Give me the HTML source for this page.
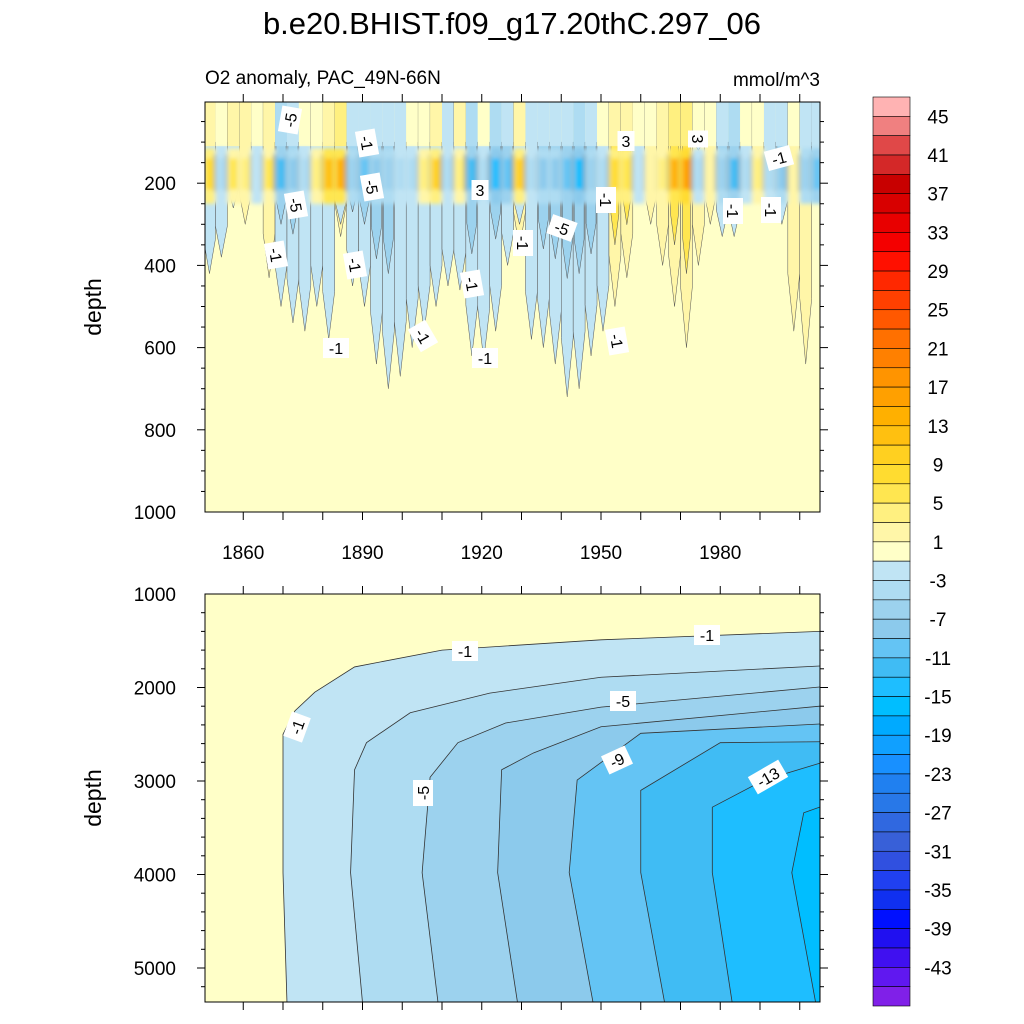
<!DOCTYPE html>
<html><head><meta charset="utf-8">
<style>
body{margin:0;background:#fff;}
svg{display:block;font-family:"Liberation Sans",sans-serif;}
</style></head>
<body>
<svg id="chart" width="1024" height="1024" viewBox="0 0 1024 1024">
<text x="512" y="34" font-size="31" text-anchor="middle">b.e20.BHIST.f09_g17.20thC.297_06</text>
<text x="205" y="84" font-size="19">O2 anomaly, PAC_49N-66N</text>
<text x="820" y="86" font-size="19" text-anchor="end">mmol/m^3</text>
<text transform="translate(101,307) rotate(-90)" font-size="23" text-anchor="middle">depth</text>
<text transform="translate(101,798) rotate(-90)" font-size="23" text-anchor="middle">depth</text>
<defs><clipPath id="ctop"><rect x="205" y="102" width="615" height="410"/></clipPath>
<clipPath id="cbot"><rect x="205" y="594" width="615" height="408"/></clipPath>
<filter id="blur" x="-5%" y="-20%" width="110%" height="140%"><feGaussianBlur stdDeviation="2.5 2"/></filter></defs>
<g id="topPanel" clip-path="url(#ctop)">
<g id="topBase"></g><g id="topCore" filter="url(#blur)"></g></g>
<g id="botPanel" clip-path="url(#cbot)"></g>
<g id="axes"></g>
<g id="cbar"></g>
</svg>
<script>
// ---- data ----
const levels = [45,43,41,39,37,35,33,31,29,27,25,23,21,19,17,15,13,11,9,7,5,3,1,-1,-3,-5,-7,-9,-11,-13,-15,-17,-19,-21,-23,-25,-27,-29,-31,-33,-35,-37,-39,-41,-43,-45];
const cbarColors = ["#FFB3B3","#F08080","#E04848","#D42828","#C80000","#D80000","#E80000","#F40000","#FF1000","#FF2800","#FF4000","#FF5800","#FF7000","#FF8000","#FF9400","#FFA000","#FFB000","#FFC010","#FFD020","#FFDC30","#FFE650","#FFF080","#FFF6A8","#FFFFC8","#C0E4F4","#AEDCF2","#9CD2EE","#8CCAEC","#64C4F4","#40BCF4","#1EBEFF","#00BEFF","#00AAFF","#10A0FF","#1890FF","#2080F0","#2878E8","#3068E0","#3860D8","#3050E0","#2040F0","#1030F0","#0010FF","#2010F0","#4010F0","#6018F0","#8020E8"];
const cbarLabels = [45,41,37,33,29,25,21,17,13,9,5,1,-3,-7,-11,-15,-19,-23,-27,-31,-35,-39,-43];

const colYears = [1850,1853,1856,1859,1862,1865,1868,1871,1874,1877,1880,1883,1886,1889,1892,1895,1898,1901,1904,1907,1910,1913,1916,1919,1922,1925,1928,1931,1934,1937,1940,1943,1946,1949,1952,1955,1958,1961,1964,1967,1970,1973,1976,1979,1982,1985,1988,1991,1994,1997,2000,2003];
const coreAnom = [8,-3,6,5,-2,6,-12,-8,-3,4,12,14,-6,-10,-8,-6,-4,-3,4,10,-4,5,-12,-3,-14,-10,10,-4,-8,-8,-10,-16,-6,-3,8,7,-2,3,5,14,17,-3,3,-6,-12,-3,4,-4,-8,3,-6,-10];
const negDepth = [420,380,260,0,200,0,500,540,560,500,580,300,450,500,640,700,670,600,560,500,450,460,620,630,560,400,300,580,600,640,720,700,620,560,0,0,200,0,0,0,0,120,0,330,330,230,0,260,300,0,160,150];
const posDepth = [200,0,260,300,0,430,0,0,0,250,0,330,0,0,0,0,0,0,250,300,0,300,0,0,0,0,360,0,0,0,0,0,0,0,500,430,0,300,400,500,600,400,300,0,0,0,200,0,0,560,640,0];

const contourLevels = [-1,-3,-5,-7,-9,-11,-13,-15];
const cYears = [
 [1871,1870,1870,1873,1878,1888,1910,1950,2005],
 [1890,1887,1888,1891,1902,1922,1950,2005],
 [1909,1905,1907,1914,1926,1950,2005],
 [1929,1924,1925,1933,1950,2005],
 [1948,1942,1944,1960,2005],
 [1966,1960,1960,1980,2005],
 [1983,1978,1978,1991,2005],
 [2004,1998,2001,2005]];
const cDepths = [
 [5370,3980,2500,2250,2050,1780,1600,1490,1400],
 [5370,3980,2880,2590,2270,2060,1890,1770],
 [5370,3980,2960,2590,2380,2210,1995],
 [5370,3980,2880,2700,2420,2200],
 [5370,3980,2990,2490,2390],
 [5370,3980,3100,2590,2580],
 [5370,3980,3280,2990,2810],
 [5370,3980,3340,3280]];
const fillColors = ["#C0E4F4","#AEDCF2","#9CD2EE","#8CCAEC","#64C4F4","#40BCF4","#1EBEFF","#00BEFF"];

// ---- scales ----
const X0=205,X1=820;
const xs = y => 203.5 + (y-1850)*3.975;
const yTop = d => 101 + d*0.411;
const yBot = d => 594 + (d-1000)*0.0935;
function colorFor(v){
  for(let i=0;i<levels.length;i++){ if(v>levels[i]) return cbarColors[i]; }
  return cbarColors[cbarColors.length-1];
}
const NS="http://www.w3.org/2000/svg";
function mk(tag,attrs,parent){const e=document.createElementNS(NS,tag);for(const k in attrs)e.setAttribute(k,attrs[k]);parent.appendChild(e);return e;}

// ---- top panel ----
const baseG=document.getElementById('topBase');
const coreG=document.getElementById('topCore');
const bg=mk('rect',{x:205,y:102,width:615,height:410,fill:"#FFFFC8"},baseG);


colYears.forEach((yr,i)=>{
  const x0=xs(yr), x1=xs(yr+3), xc=(x0+x1)/2, c=coreAnom[i];
  if(posDepth[i]>0){
    const d=posDepth[i];
    const p=mk('polygon',{points:`${x0},101 ${x1},101 ${x1},${yTop(d*0.75)} ${xc},${yTop(d)} ${x0},${yTop(d*0.75)}`,fill:"#FFF6A8",stroke:"#555","stroke-width":0.5},baseG);
    
    
    if(c>6){const p2=mk('polygon',{points:`${x0+2},${yTop(60)} ${x1-2},${yTop(60)} ${x1-2},${yTop(d*0.55)} ${xc},${yTop(d*0.7)} ${x0+2},${yTop(d*0.55)}`,fill:"#FFE650",stroke:"#555","stroke-width":0.5},baseG);
    
    }
  }
  if(negDepth[i]>0){
    const d=negDepth[i];
    const p=mk('polygon',{points:`${x0},${yTop(100)} ${x1},${yTop(100)} ${x1},${yTop(d*0.8)} ${xc},${yTop(d)} ${x0},${yTop(d*0.8)}`,fill:"#C0E4F4",stroke:"#555","stroke-width":0.5},baseG);
    
    
    if(c<-5){const d2=d*0.6;const p2=mk('polygon',{points:`${x0+1},${yTop(100)} ${x1-1},${yTop(100)} ${x1-1},${yTop(d2*0.8)} ${xc},${yTop(d2)} ${x0+1},${yTop(d2*0.8)}`,fill:"#9CD2EE",stroke:"#555","stroke-width":0.5},baseG);
    
    }
  }
  const s=mk('rect',{x:x0,y:yTop(0),width:x1-x0,height:yTop(110)-yTop(0),fill:colorFor(c*0.25)},baseG);
  
  
  const r=mk('rect',{x:x0,y:yTop(115),width:x1-x0,height:yTop(250)-yTop(115),fill:colorFor(c*0.5)},coreG);
  
  
  const r2=mk('rect',{x:x0+2,y:yTop(140),width:x1-x0-4,height:yTop(215)-yTop(140),fill:colorFor(c)},coreG);
  
  
  const nxt=(i+1<coreAnom.length)?coreAnom[i+1]:c;
  const sh=mk('rect',{x:x1-1.5,y:yTop(130),width:3,height:yTop(220)-yTop(130),fill:"#222",opacity:Math.min(0.75,Math.abs(c-nxt)/22)},coreG);
  
  
});

// ---- bottom panel ----
const botG=document.getElementById('botPanel');
const bbg=mk('rect',{x:205,y:594,width:615,height:408,fill:"#FFFFC8"},botG);


contourLevels.forEach((lv,k)=>{
  const pts=cYears[k].map((y,j)=>xs(y)+","+yBot(cDepths[k][j]));
  pts.push(`830,${yBot(cDepths[k][cDepths[k].length-1])}`,`830,1010`,`${xs(cYears[k][0])},1010`);
  const p=mk('polygon',{points:pts.join(" "),fill:fillColors[k],stroke:"#333","stroke-width":0.8},botG);
  
  
});

const ax=document.getElementById('axes');
const lbls=[[290,120,"-5",-80],[367,143,"-1",80],[372,187,"-5",80],[296,205,"-5",80],[276,255,"-1",80],[355,265,"-1",80],[472,284,"-1",80],[336,348,"-1",0],[423,336,"-1",60],[485,358,"-1",0],[480,190,"3",0],[626,141,"3",0],[698,139,"3",90],[779,158,"-1",-15],[606,200,"-1",90],[523,243,"-1",90],[562,228,"-5",20],[733,211,"-1",90],[771,210,"-1",90],[617,341,"-1",80],
[465,651,"-1",0],[707,635,"-1",0],[297,727,"-1",-70],[623,701,"-5",0],[617,760,"-9",-25],[768,777,"-13",-30],[423,793,"-5",-90]];
lbls.forEach(l=>{
  const g=mk('g',{transform:`translate(${l[0]},${l[1]}) rotate(${l[3]})`},ax);
  
  
  const w=l[2].length*9+8;
  mk('rect',{x:-w/2,y:-10,width:w,height:20,fill:"#fff"},g);
  const t=mk('text',{x:0,y:6,"font-size":16,"text-anchor":"middle"},g);t.textContent=l[2];
});

// ---- axes ----
function frame(y0,y1,name){const r=mk('rect',{x:X0,y:y0,width:X1-X0,height:y1-y0,fill:"none",stroke:"#000","stroke-width":1},ax);}
frame(102,512,'top-frame');frame(594,1002,'bottom-frame');
for(let y=1860;y<=2000;y+=10){const x=xs(y);
  mk('line',{x1:x,y1:102,x2:x,y2:94,stroke:"#000"},ax);
  mk('line',{x1:x,y1:512,x2:x,y2:520,stroke:"#000"},ax);
  mk('line',{x1:x,y1:594,x2:x,y2:586,stroke:"#000"},ax);
  mk('line',{x1:x,y1:1002,x2:x,y2:1010,stroke:"#000"},ax);}
const xTicks=[1860,1890,1920,1950,1980];
xTicks.forEach(y=>{const t=mk('text',{x:xs(y),y:559,"font-size":19,"text-anchor":"middle"},ax);t.textContent=y;
});
for(let d=50;d<1000;d+=50){const yy=yTop(d),L=d%200==0?8:4;
  mk('line',{x1:205,y1:yy,x2:205-L,y2:yy,stroke:"#000"},ax);mk('line',{x1:820,y1:yy,x2:820+L,y2:yy,stroke:"#000"},ax);}
const topYTicks=[200,400,600,800,1000];
topYTicks.forEach(d=>{const t=mk('text',{x:176,y:yTop(d)+7,"font-size":19,"text-anchor":"end"},ax);t.textContent=d;
});
for(let d=1200;d<5400;d+=200){const yy=yBot(d),L=d%1000==0?8:4;
  mk('line',{x1:205,y1:yy,x2:205-L,y2:yy,stroke:"#000"},ax);mk('line',{x1:820,y1:yy,x2:820+L,y2:yy,stroke:"#000"},ax);}
const botYTicks=[1000,2000,3000,4000,5000];
botYTicks.forEach(d=>{const t=mk('text',{x:176,y:yBot(d)+7,"font-size":19,"text-anchor":"end"},ax);t.textContent=d;
});

// ---- colorbar ----
const cb=document.getElementById('cbar');
const bh=(1006-97)/cbarColors.length;
cbarColors.forEach((c,i)=>{const r=mk('rect',{x:873,y:97+i*bh,width:37,height:bh,fill:c,stroke:"#000","stroke-width":0.6},cb);
});
cbarLabels.forEach((v,i)=>{const t=mk('text',{x:938,y:97+(1+2*i)*bh+7,"font-size":19,"text-anchor":"middle"},cb);t.textContent=v;
});
</script>
</body></html>
